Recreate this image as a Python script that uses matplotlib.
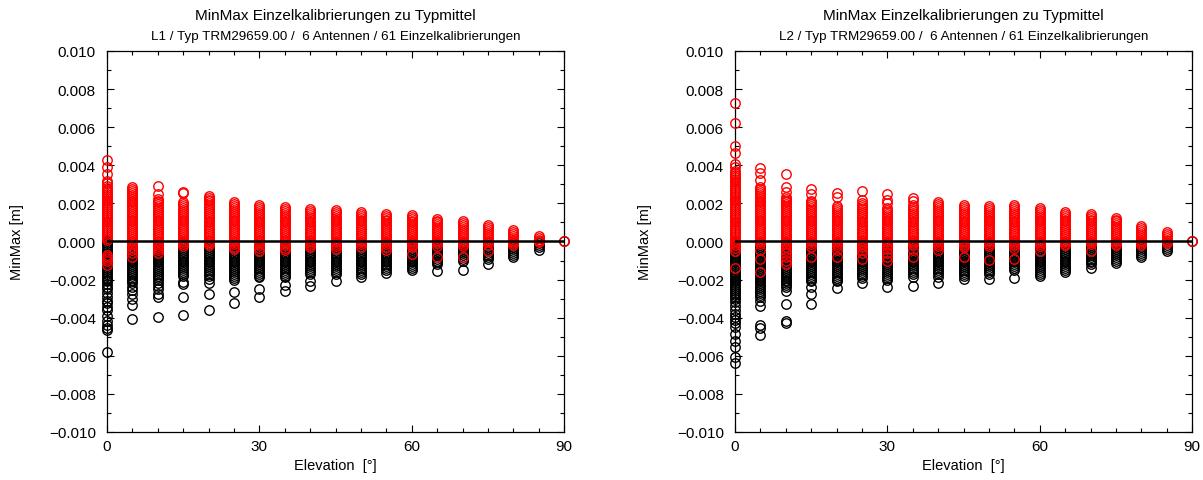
import numpy as np
import matplotlib
matplotlib.use("Agg")
import matplotlib.pyplot as plt
from matplotlib.ticker import MultipleLocator, FuncFormatter

plt.rcParams['font.family'] = ['Liberation Sans', 'DejaVu Sans']

# Elevation steps [deg]
elevations = [0, 5, 10, 15, 20, 25, 30, 35, 40, 45, 50, 55, 60, 65, 70, 75, 80, 85, 90]

# Per-elevation maxima / minima of the single calibrations relative to the type mean [mm]
l1_max = [
    [4.25, 3.9, 3.55, 3.2, 3.05, 2.9, 2.8, 2.7, 2.6, 2.5, 2.4, 2.3, 2.2, 2.1, 2.0, 1.9, 1.8, 1.7, 1.6, 1.5, 1.4, 1.3, 1.2, 1.1, 1.0, 0.9, 0.8, 0.7, 0.6, 0.5, 0.4, 0.3, 0.2, 0.1, -0.7, -0.8, -0.9, -1.05, -1.25],
    [2.85, 2.75, 2.65, 2.55, 2.45, 2.35, 2.25, 2.15, 2.05, 1.95, 1.85, 1.75, 1.65, 1.55, 1.45, 1.35, 1.25, 1.15, 1.05, 0.95, 0.85, 0.75, 0.65, 0.55, 0.45, 0.35, 0.25, 0.15, 0.05, -0.05, -0.15, -0.3, -0.45, -0.6, -0.8],
    [2.9, 2.5, 2.25, 2.15, 2.05, 1.95, 1.85, 1.75, 1.65, 1.55, 1.45, 1.35, 1.25, 1.15, 1.05, 0.95, 0.85, 0.75, 0.65, 0.55, 0.45, 0.35, 0.25, 0.15, 0.05, -0.05, -0.15, -0.25, -0.35, -0.45, -0.6],
    [2.6, 2.55, 2.05, 1.95, 1.85, 1.75, 1.65, 1.55, 1.45, 1.35, 1.25, 1.15, 1.05, 0.95, 0.85, 0.75, 0.65, 0.55, 0.45, 0.35, 0.25, 0.15, 0.05, -0.05, -0.15, -0.25],
    [2.4, 2.3, 2.2, 2.1, 2.0, 1.9, 1.8, 1.7, 1.6, 1.5, 1.4, 1.3, 1.2, 1.1, 1.0, 0.9, 0.8, 0.7, 0.6, 0.5, 0.4, 0.3, 0.2, 0.1, 0.0, -0.1, -0.2],
    [2.05, 1.95, 1.85, 1.75, 1.65, 1.55, 1.45, 1.35, 1.25, 1.15, 1.05, 0.95, 0.85, 0.75, 0.65, 0.55, 0.45, 0.35, 0.25, 0.15, 0.05, -0.05, -0.15, -0.3, -0.4],
    [1.9, 1.8, 1.7, 1.6, 1.5, 1.4, 1.3, 1.2, 1.1, 1.0, 0.9, 0.8, 0.7, 0.6, 0.5, 0.4, 0.3, 0.2, 0.1, 0.0, -0.1, -0.2, -0.35, -0.5],
    [1.8, 1.7, 1.6, 1.5, 1.4, 1.3, 1.2, 1.1, 1.0, 0.9, 0.8, 0.7, 0.6, 0.5, 0.4, 0.3, 0.2, 0.1, 0.0, -0.1, -0.2, -0.35, -0.45],
    [1.7, 1.6, 1.5, 1.4, 1.3, 1.2, 1.1, 1.0, 0.9, 0.8, 0.7, 0.6, 0.5, 0.4, 0.3, 0.2, 0.1, 0.0, -0.1, -0.2, -0.3],
    [1.65, 1.55, 1.45, 1.35, 1.25, 1.15, 1.05, 0.95, 0.85, 0.75, 0.65, 0.55, 0.45, 0.35, 0.25, 0.15, 0.05, -0.05, -0.15, -0.25, -0.4],
    [1.55, 1.45, 1.35, 1.25, 1.15, 1.05, 0.95, 0.85, 0.75, 0.65, 0.55, 0.45, 0.35, 0.25, 0.15, 0.05, -0.05, -0.15, -0.3],
    [1.45, 1.35, 1.25, 1.15, 1.05, 0.95, 0.85, 0.75, 0.65, 0.55, 0.45, 0.35, 0.25, 0.15, 0.05, -0.05, -0.15, -0.3, -0.45],
    [1.4, 1.3, 1.2, 1.1, 1.0, 0.9, 0.8, 0.7, 0.6, 0.5, 0.4, 0.3, 0.2, 0.1, 0.0, -0.1, -0.2, -0.3, -0.65],
    [1.2, 1.1, 1.0, 0.9, 0.8, 0.7, 0.6, 0.5, 0.4, 0.3, 0.2, 0.1, 0.0, -0.1, -0.25, -0.8],
    [1.05, 0.95, 0.85, 0.75, 0.65, 0.55, 0.45, 0.35, 0.25, 0.15, 0.05, -0.05, -0.15, -0.25, -0.8],
    [0.85, 0.75, 0.65, 0.55, 0.45, 0.35, 0.25, 0.15, 0.05, -0.05, -0.2, -0.5],
    [0.6, 0.5, 0.4, 0.3, 0.2, 0.1, 0.0, -0.1, -0.2],
    [0.3, 0.2, 0.1, 0.0, -0.05],
    [0.0],
]

l1_min = [
    [0.1, 0.0, -0.1, -0.2, -0.3, -0.4, -0.5, -0.6, -0.7, -0.8, -0.9, -1.0, -1.1, -1.2, -1.3, -1.4, -1.5, -1.6, -1.7, -1.8, -1.9, -2.0, -2.1, -2.25, -2.4, -2.5, -2.7, -2.9, -3.1, -3.25, -3.45, -3.6, -3.9, -4.15, -4.4, -4.55, -4.65, -5.8],
    [-0.3, -0.4, -0.5, -0.6, -0.7, -0.8, -0.9, -1.0, -1.1, -1.2, -1.3, -1.4, -1.5, -1.6, -1.7, -1.8, -1.9, -2.0, -2.1, -2.2, -2.4, -2.55, -2.75, -3.0, -3.35, -4.05],
    [-0.2, -0.3, -0.4, -0.5, -0.6, -0.7, -0.8, -0.9, -1.0, -1.1, -1.2, -1.3, -1.4, -1.5, -1.6, -1.7, -1.8, -1.9, -2.0, -2.2, -2.35, -2.5, -2.75, -2.9, -3.95],
    [0.0, -0.1, -0.2, -0.3, -0.4, -0.5, -0.6, -0.7, -0.8, -0.9, -1.0, -1.1, -1.2, -1.3, -1.4, -1.5, -1.6, -1.7, -1.8, -2.15, -2.25, -2.9, -3.85],
    [-0.2, -0.3, -0.4, -0.5, -0.6, -0.7, -0.8, -0.9, -1.0, -1.1, -1.2, -1.3, -1.4, -1.5, -1.6, -1.7, -1.8, -1.95, -2.2, -2.75, -3.6],
    [-0.2, -0.3, -0.4, -0.5, -0.6, -0.7, -0.8, -0.9, -1.0, -1.1, -1.2, -1.3, -1.4, -1.5, -1.6, -1.7, -1.8, -1.9, -2.0, -2.65, -3.25],
    [-0.2, -0.3, -0.4, -0.5, -0.6, -0.7, -0.8, -0.9, -1.0, -1.1, -1.2, -1.3, -1.4, -1.5, -1.6, -1.7, -1.8, -1.85, -2.5, -2.9],
    [-0.2, -0.3, -0.4, -0.5, -0.6, -0.7, -0.8, -0.9, -1.0, -1.1, -1.2, -1.3, -1.4, -1.5, -1.6, -1.7, -1.8, -1.85, -2.3, -2.6],
    [-0.1, -0.2, -0.3, -0.4, -0.5, -0.6, -0.7, -0.8, -0.9, -1.0, -1.1, -1.2, -1.3, -1.4, -1.5, -1.6, -1.7, -2.05, -2.35],
    [-0.1, -0.2, -0.3, -0.4, -0.5, -0.6, -0.7, -0.8, -0.9, -1.0, -1.1, -1.2, -1.3, -1.4, -1.5, -1.6, -1.7, -2.05],
    [-0.1, -0.2, -0.3, -0.4, -0.5, -0.6, -0.7, -0.8, -0.9, -1.0, -1.1, -1.2, -1.3, -1.4, -1.5, -1.6, -1.7, -1.85],
    [-0.1, -0.2, -0.3, -0.4, -0.5, -0.6, -0.7, -0.8, -0.9, -1.0, -1.1, -1.2, -1.3, -1.4, -1.5, -1.65],
    [-0.1, -0.2, -0.3, -0.4, -0.5, -0.6, -0.7, -0.8, -0.9, -1.0, -1.1, -1.2, -1.3, -1.4, -1.5],
    [-0.1, -0.2, -0.3, -0.4, -0.5, -0.6, -0.7, -0.8, -0.9, -1.0, -1.1, -1.2, -1.55],
    [-0.1, -0.2, -0.3, -0.4, -0.5, -0.6, -0.7, -0.8, -0.9, -1.0, -1.5],
    [-0.1, -0.2, -0.3, -0.4, -0.5, -0.6, -0.7, -0.8, -0.9, -1.2],
    [-0.1, -0.2, -0.3, -0.4, -0.5, -0.6, -0.7, -0.8],
    [-0.1, -0.2, -0.3, -0.45],
    [0.0],
]

l2_max = [
    [7.25, 6.2, 5.0, 4.65, 4.05, 3.9, 3.7, 3.6, 3.5, 3.4, 3.3, 3.2, 3.1, 3.0, 2.9, 2.8, 2.7, 2.6, 2.5, 2.4, 2.3, 2.2, 2.1, 2.0, 1.9, 1.8, 1.7, 1.6, 1.5, 1.4, 1.3, 1.2, 1.1, 1.0, 0.9, 0.8, 0.7, 0.6, 0.5, 0.4, 0.3, 0.2, 0.1, 0.0, -0.1, -0.2, -0.35, -0.5, -1.4],
    [3.85, 3.6, 3.25, 2.85, 2.75, 2.65, 2.55, 2.45, 2.35, 2.25, 2.15, 2.05, 1.95, 1.85, 1.75, 1.65, 1.55, 1.45, 1.35, 1.25, 1.15, 1.05, 0.95, 0.85, 0.75, 0.65, 0.55, 0.45, 0.35, 0.25, 0.15, 0.05, -0.05, -0.15, -0.45, -0.9, -1.6],
    [3.55, 2.85, 2.6, 2.35, 2.25, 2.15, 2.05, 1.95, 1.85, 1.75, 1.65, 1.55, 1.45, 1.35, 1.25, 1.15, 1.05, 0.95, 0.85, 0.75, 0.65, 0.55, 0.45, 0.35, 0.25, 0.15, 0.05, -0.05, -0.15, -0.3, -0.45, -0.6, -0.8, -1.0, -1.2],
    [2.75, 2.5, 2.15, 2.05, 1.95, 1.85, 1.75, 1.65, 1.55, 1.45, 1.35, 1.25, 1.15, 1.05, 0.95, 0.85, 0.75, 0.65, 0.55, 0.45, 0.35, 0.25, 0.15, 0.05, -0.05, -0.15, -0.3, -0.8],
    [2.55, 2.35, 1.85, 1.75, 1.65, 1.55, 1.45, 1.35, 1.25, 1.15, 1.05, 0.95, 0.85, 0.75, 0.65, 0.55, 0.45, 0.35, 0.25, 0.15, 0.05, -0.05, -0.15, -0.25, -0.45, -0.8],
    [2.65, 2.2, 2.0, 1.9, 1.8, 1.7, 1.6, 1.5, 1.4, 1.3, 1.2, 1.1, 1.0, 0.9, 0.8, 0.7, 0.6, 0.5, 0.4, 0.3, 0.2, 0.1, 0.0, -0.1, -0.2, -0.3, -0.45, -0.6, -0.9],
    [2.5, 2.2, 2.0, 1.75, 1.65, 1.55, 1.45, 1.35, 1.25, 1.15, 1.05, 0.95, 0.85, 0.75, 0.65, 0.55, 0.45, 0.35, 0.25, 0.15, 0.05, -0.05, -0.15, -0.25, -0.4, -0.6, -0.8, -1.05],
    [2.3, 2.1, 1.9, 1.8, 1.7, 1.6, 1.5, 1.4, 1.3, 1.2, 1.1, 1.0, 0.9, 0.8, 0.7, 0.6, 0.5, 0.4, 0.3, 0.2, 0.1, 0.0, -0.1, -0.2, -0.45, -0.8],
    [2.05, 1.95, 1.85, 1.75, 1.65, 1.55, 1.45, 1.35, 1.25, 1.15, 1.05, 0.95, 0.85, 0.75, 0.65, 0.55, 0.45, 0.35, 0.25, 0.15, 0.05, -0.05, -0.15, -0.25, -0.45],
    [1.9, 1.8, 1.7, 1.6, 1.5, 1.4, 1.3, 1.2, 1.1, 1.0, 0.9, 0.8, 0.7, 0.6, 0.5, 0.4, 0.3, 0.2, 0.1, 0.0, -0.1, -0.2, -0.3, -0.8],
    [1.85, 1.75, 1.65, 1.55, 1.45, 1.35, 1.25, 1.15, 1.05, 0.95, 0.85, 0.75, 0.65, 0.55, 0.45, 0.35, 0.25, 0.15, 0.05, -0.05, -0.15, -0.25, -0.95],
    [1.9, 1.8, 1.7, 1.6, 1.5, 1.4, 1.3, 1.2, 1.1, 1.0, 0.9, 0.8, 0.7, 0.6, 0.5, 0.4, 0.3, 0.2, 0.1, 0.0, -0.1, -0.2, -0.35, -0.9],
    [1.75, 1.65, 1.55, 1.45, 1.35, 1.25, 1.15, 1.05, 0.95, 0.85, 0.75, 0.65, 0.55, 0.45, 0.35, 0.25, 0.15, 0.05, -0.05, -0.15, -0.25, -0.5],
    [1.55, 1.45, 1.35, 1.25, 1.15, 1.05, 0.95, 0.85, 0.75, 0.65, 0.55, 0.45, 0.35, 0.25, 0.15, 0.05, -0.05, -0.15, -0.2],
    [1.45, 1.35, 1.25, 1.15, 1.05, 0.95, 0.85, 0.75, 0.65, 0.55, 0.45, 0.35, 0.25, 0.15, 0.05, -0.05, -0.15, -0.5],
    [1.25, 1.15, 1.05, 0.95, 0.85, 0.75, 0.65, 0.55, 0.45, 0.35, 0.25, 0.15, 0.05, -0.05, -0.15, -0.2],
    [0.8, 0.7, 0.6, 0.5, 0.4, 0.3, 0.2, 0.1, 0.0, -0.1, -0.2],
    [0.5, 0.4, 0.3, 0.2, 0.1, 0.0, -0.1],
    [0.0],
]

l2_min = [
    [0.0, -0.1, -0.2, -0.3, -0.4, -0.5, -0.6, -0.7, -0.8, -0.9, -1.0, -1.1, -1.2, -1.3, -1.4, -1.5, -1.6, -1.7, -1.8, -1.9, -2.0, -2.1, -2.2, -2.3, -2.4, -2.5, -2.6, -2.7, -2.8, -2.9, -3.0, -3.2, -3.4, -3.6, -3.8, -3.95, -4.1, -4.3, -4.5, -4.85, -5.2, -5.55, -6.05, -6.4],
    [-0.1, -0.2, -0.3, -0.4, -0.5, -0.6, -0.7, -0.8, -0.9, -1.0, -1.1, -1.2, -1.3, -1.4, -1.5, -1.6, -1.7, -1.8, -1.9, -2.0, -2.1, -2.2, -2.3, -2.4, -2.5, -2.6, -2.7, -2.8, -2.9, -3.1, -3.4, -4.4, -4.55, -4.9],
    [-0.1, -0.2, -0.3, -0.4, -0.5, -0.6, -0.7, -0.8, -0.9, -1.0, -1.1, -1.2, -1.3, -1.4, -1.5, -1.6, -1.7, -1.8, -1.9, -2.0, -2.1, -2.2, -2.3, -2.4, -2.6, -3.3, -4.15, -4.3],
    [-0.1, -0.2, -0.3, -0.4, -0.5, -0.6, -0.7, -0.8, -0.9, -1.0, -1.1, -1.2, -1.3, -1.4, -1.5, -1.6, -1.7, -1.8, -1.9, -2.0, -2.1, -2.4, -2.75, -3.3],
    [-0.1, -0.2, -0.3, -0.4, -0.5, -0.6, -0.7, -0.8, -0.9, -1.0, -1.1, -1.2, -1.3, -1.4, -1.5, -1.6, -1.7, -1.8, -1.9, -2.0, -2.1, -2.45],
    [-0.1, -0.2, -0.3, -0.4, -0.5, -0.6, -0.7, -0.8, -0.9, -1.0, -1.1, -1.2, -1.3, -1.4, -1.5, -1.6, -1.7, -1.8, -1.9, -2.2],
    [-0.1, -0.2, -0.3, -0.4, -0.5, -0.6, -0.7, -0.8, -0.9, -1.0, -1.1, -1.2, -1.3, -1.4, -1.5, -1.6, -1.7, -1.8, -1.9, -2.0, -2.4],
    [-0.1, -0.2, -0.3, -0.4, -0.5, -0.6, -0.7, -0.8, -0.9, -1.0, -1.1, -1.2, -1.3, -1.4, -1.5, -1.6, -1.7, -1.85, -2.35],
    [-0.1, -0.2, -0.3, -0.4, -0.5, -0.6, -0.7, -0.8, -0.9, -1.0, -1.1, -1.2, -1.3, -1.4, -1.5, -1.6, -1.7, -1.85, -2.2],
    [-0.1, -0.2, -0.3, -0.4, -0.5, -0.6, -0.7, -0.8, -0.9, -1.0, -1.1, -1.2, -1.3, -1.4, -1.5, -1.6, -1.7, -1.8, -1.95],
    [-0.1, -0.2, -0.3, -0.4, -0.5, -0.6, -0.7, -0.8, -0.9, -1.0, -1.1, -1.2, -1.3, -1.4, -1.5, -1.6, -1.7, -1.95],
    [-0.1, -0.2, -0.3, -0.4, -0.5, -0.6, -0.7, -0.8, -0.9, -1.0, -1.1, -1.2, -1.3, -1.4, -1.5, -1.9],
    [-0.1, -0.2, -0.3, -0.4, -0.5, -0.6, -0.7, -0.8, -0.9, -1.0, -1.1, -1.2, -1.3, -1.4, -1.5, -1.6, -1.7, -1.8],
    [-0.1, -0.2, -0.3, -0.4, -0.5, -0.6, -0.7, -0.8, -0.9, -1.0, -1.1, -1.2, -1.3, -1.4, -1.5, -1.6],
    [-0.1, -0.2, -0.3, -0.4, -0.5, -0.6, -0.7, -0.8, -0.9, -1.0, -1.1, -1.2, -1.4],
    [-0.1, -0.2, -0.3, -0.4, -0.5, -0.6, -0.7, -0.8, -0.9, -1.0, -1.15],
    [-0.1, -0.2, -0.3, -0.4, -0.5, -0.6, -0.7, -0.8],
    [-0.1, -0.2, -0.3, -0.4, -0.5],
    [0.0],
]

title_main = "MinMax Einzelkalibrierungen zu Typmittel"
subtitles = [
    "L1 / Typ TRM29659.00 /  6 Antennen / 61 Einzelkalibrierungen",
    "L2 / Typ TRM29659.00 /  6 Antennen / 61 Einzelkalibrierungen",
]
y_label = "MinMax [m]"
x_label = "Elevation  [°]"


def flatten(groups):
    xs, ys = [], []
    for elev, vals in zip(elevations, groups):
        xs.extend([elev] * len(vals))
        ys.extend(vals)
    return np.array(xs, float), np.array(ys, float) * 1e-3


def fmt_y(v, pos):
    s = f"{v:.3f}"
    if s == "-0.000":
        s = "0.000"
    return s.replace("-", "\u2212")


fig = plt.figure(figsize=(12.03, 4.81), dpi=100)
panels = [(0.0889, l1_min, l1_max, subtitles[0]),
          (0.6110, l2_min, l2_max, subtitles[1])]

for left, mins, maxs, sub in panels:
    ax = fig.add_axes([left, 0.0998, 0.380, 0.7922])
    xm, ym = flatten(mins)
    xM, yM = flatten(maxs)
    ax.plot(xm, ym, linestyle="none", marker="o", markersize=6.8,
            markerfacecolor="none", markeredgecolor="black", markeredgewidth=1.0,
            clip_on=False, zorder=2)
    ax.plot(xM, yM, linestyle="none", marker="o", markersize=6.8,
            markerfacecolor="none", markeredgecolor="#ff0000", markeredgewidth=1.0,
            clip_on=False, zorder=3)
    ax.axhline(0.0, color="black", linewidth=1.8, zorder=4)

    ax.set_xlim(0, 90)
    ax.set_ylim(-0.010, 0.010)
    ax.xaxis.set_major_locator(MultipleLocator(30))
    ax.xaxis.set_minor_locator(MultipleLocator(5))
    ax.yaxis.set_major_locator(MultipleLocator(0.002))
    ax.yaxis.set_minor_locator(MultipleLocator(0.001))
    ax.yaxis.set_major_formatter(FuncFormatter(fmt_y))
    ax.tick_params(which="both", direction="in", top=True, right=True,
                   width=0.8, labelsize=11)
    ax.tick_params(axis="y", which="major", pad=8)
    ax.tick_params(axis="x", which="major", pad=5)
    ax.tick_params(which="major", length=5)
    ax.tick_params(which="minor", length=3)
    for sp in ax.spines.values():
        sp.set_linewidth(0.9)

    ax.set_xlabel(x_label, fontsize=10.5, labelpad=4)
    ax.set_ylabel(y_label, fontsize=10.5, labelpad=18)
    ax.text(0.5, 1.095, title_main, transform=ax.transAxes,
            ha="center", va="center", fontsize=11)
    ax.text(0.5, 1.04, sub, transform=ax.transAxes,
            ha="center", va="center", fontsize=9.6)

fig.savefig("out.png", dpi=100, facecolor="white")
